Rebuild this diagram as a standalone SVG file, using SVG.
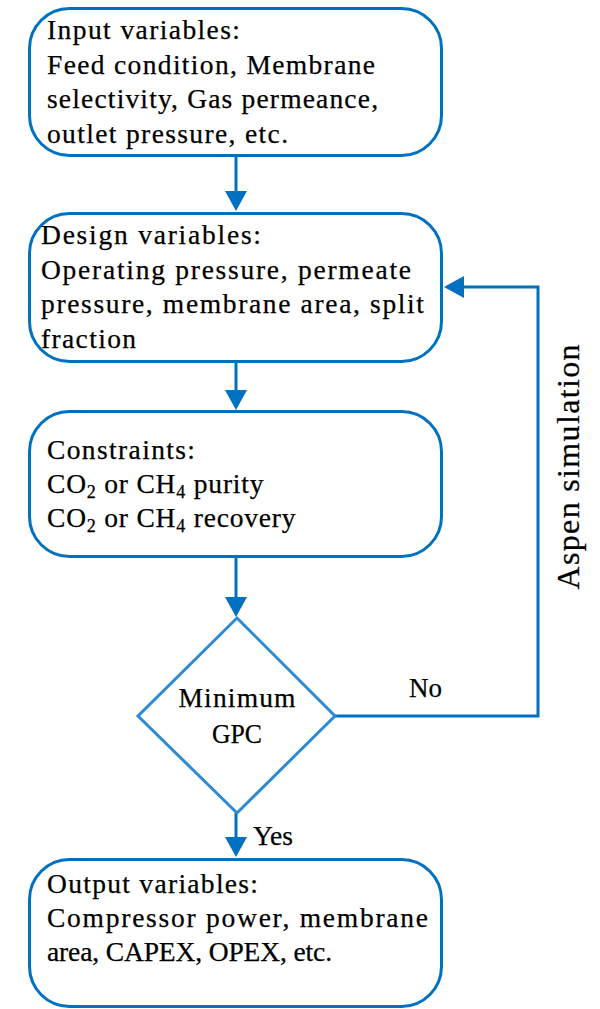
<svg xmlns="http://www.w3.org/2000/svg" width="600" height="1009" viewBox="0 0 600 1009">
<style>
.box{fill:#fff;stroke:#0070C0;stroke-width:3}
.dia{fill:#fff;stroke:#2E8AD2;stroke-width:3}
.t{font-family:"Liberation Serif","Times New Roman",serif;font-size:27.5px;fill:#000;stroke:#000;stroke-width:0.25}
.big{font-size:32px}
.c{fill:none;stroke:#0070C0;stroke-width:3}
</style>
<defs>
<marker id="ah" markerUnits="userSpaceOnUse" markerWidth="20" markerHeight="22" viewBox="0 0 20 22" refX="17" refY="11" orient="auto">
<path d="M0,0 L20,11 L0,22 z" fill="#0070C0"/>
</marker>
<filter id="soft" x="-5%" y="-5%" width="110%" height="110%"><feGaussianBlur stdDeviation="0.6"/></filter>
</defs>
<rect width="600" height="1009" fill="#fff"/>
<g id="connectors">
<line class="c" x1="236" y1="157" x2="236" y2="208" marker-end="url(#ah)"/>
<line class="c" x1="236" y1="362" x2="236" y2="407" marker-end="url(#ah)"/>
<line class="c" x1="236" y1="557" x2="236" y2="614" marker-end="url(#ah)"/>
<line class="c" x1="236" y1="813" x2="236" y2="854" marker-end="url(#ah)"/>
<path class="c" d="M335,716 H538 V287 H447" marker-end="url(#ah)"/>
<text class="t" x="409" y="697" textLength="33" lengthAdjust="spacingAndGlyphs">No</text>
<text class="t" x="253" y="845" textLength="40" lengthAdjust="spacingAndGlyphs">Yes</text>
<text class="t big" transform="translate(579,467) rotate(-90)" text-anchor="middle" textLength="245" lengthAdjust="spacing">Aspen simulation</text>
</g>
<g id="input">
<rect class="box" x="29.5" y="8.5" width="412" height="147" rx="40"/>
<text class="t" x="47" y="39" textLength="193" lengthAdjust="spacing">Input variables:</text>
<text class="t" x="47" y="74" textLength="328" lengthAdjust="spacing">Feed condition, Membrane</text>
<text class="t" x="47" y="108" textLength="331" lengthAdjust="spacing">selectivity, Gas permeance,</text>
<text class="t" x="47" y="143" textLength="241" lengthAdjust="spacing">outlet pressure, etc.</text>
</g>
<g id="design">
<rect class="box" x="29.5" y="213.5" width="412" height="148" rx="40"/>
<text class="t" x="41" y="244" textLength="220" lengthAdjust="spacing">Design variables:</text>
<text class="t" x="41" y="279" textLength="370" lengthAdjust="spacing">Operating pressure, permeate</text>
<text class="t" x="41" y="313" textLength="383" lengthAdjust="spacing">pressure, membrane area, split</text>
<text class="t" x="41" y="348" textLength="95" lengthAdjust="spacing">fraction</text>
</g>
<g id="constraints">
<rect class="box" x="29.5" y="411.5" width="412" height="145" rx="40"/>
<text class="t" x="47" y="459" textLength="148" lengthAdjust="spacing">Constraints:</text>
<text class="t" x="47" y="493" letter-spacing="0.8">CO<tspan font-size="18" dy="5">2</tspan><tspan dy="-5"> or CH</tspan><tspan font-size="18" dy="5">4</tspan><tspan dy="-5"> purity</tspan></text>
<text class="t" x="47" y="527" letter-spacing="0.8">CO<tspan font-size="18" dy="5">2</tspan><tspan dy="-5"> or CH</tspan><tspan font-size="18" dy="5">4</tspan><tspan dy="-5"> recovery</tspan></text>
</g>
<g id="decision">
<polygon class="dia" filter="url(#soft)" points="237,618 335,716 237,813 138,716"/>
<text class="t" x="237" y="707" text-anchor="middle" textLength="117" lengthAdjust="spacing">Minimum</text>
<text class="t" x="237" y="743" text-anchor="middle" textLength="50" lengthAdjust="spacingAndGlyphs">GPC</text>
</g>
<g id="output">
<rect class="box" x="29.5" y="859.5" width="412" height="147" rx="40"/>
<text class="t" x="47" y="893" textLength="211" lengthAdjust="spacing">Output variables:</text>
<text class="t" x="47" y="927" textLength="381" lengthAdjust="spacing">Compressor power, membrane</text>
<text class="t" x="47" y="961" textLength="285" lengthAdjust="spacing">area, CAPEX, OPEX, etc.</text>
</g>
</svg>
